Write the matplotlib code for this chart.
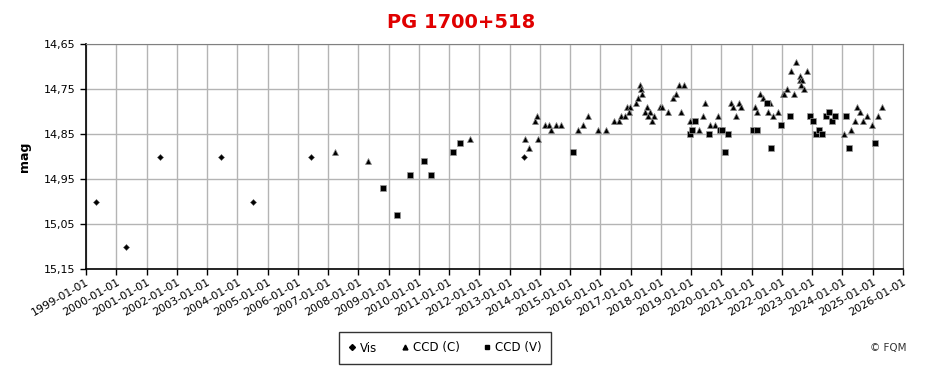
import matplotlib
matplotlib.use("Agg")
import matplotlib.pyplot as plt
from matplotlib.lines import Line2D

# Vis observations (decimal year, magnitude)
vis_t = [1999.32, 2000.33, 2001.46, 2003.47, 2004.53, 2006.42, 2013.49]
vis_m = [15.00, 15.10, 14.90, 14.90, 15.00, 14.90, 14.90]

# CCD (C) observations
ccdc_t = [2007.22, 2008.31, 2011.68, 2013.50, 2013.63, 2013.83, 2013.89, 2013.93,
          2014.16, 2014.29, 2014.36, 2014.52, 2014.69, 2015.25, 2015.41, 2015.58,
          2015.91, 2016.17, 2016.44, 2016.60, 2016.68, 2016.82, 2016.88, 2016.98,
          2016.95, 2017.18, 2017.24, 2017.31, 2017.34, 2017.37, 2017.55, 2017.48,
          2017.64, 2017.58, 2017.78, 2017.71, 2017.97, 2018.04, 2018.24, 2018.40,
          2018.50, 2018.60, 2018.77, 2018.67, 2018.96, 2019.39, 2019.46, 2019.26,
          2019.62, 2019.79, 2019.89, 2020.33, 2020.39, 2020.49, 2020.59, 2020.66,
          2021.12, 2021.19, 2021.29, 2021.38, 2021.52, 2021.62, 2021.55, 2021.72,
          2021.88, 2022.02, 2022.08, 2022.15, 2022.31, 2022.48, 2022.41, 2022.58,
          2022.61, 2022.67, 2022.64, 2022.74, 2022.84, 2024.04, 2024.27, 2024.40,
          2024.47, 2024.57, 2024.67, 2024.80, 2024.96, 2025.19, 2025.32]
ccdc_m = [14.89, 14.91, 14.86, 14.86, 14.88, 14.82, 14.81, 14.86,
          14.83, 14.83, 14.84, 14.83, 14.83, 14.84, 14.83, 14.81,
          14.84, 14.84, 14.82, 14.82, 14.81, 14.81, 14.79, 14.79,
          14.80, 14.78, 14.77, 14.74, 14.75, 14.76, 14.79, 14.80,
          14.80, 14.81, 14.81, 14.82, 14.79, 14.79, 14.80, 14.77,
          14.76, 14.74, 14.74, 14.80, 14.82, 14.81, 14.78, 14.84,
          14.83, 14.83, 14.81, 14.78, 14.79, 14.81, 14.78, 14.79,
          14.79, 14.80, 14.76, 14.77, 14.78, 14.78, 14.80, 14.81,
          14.80, 14.76, 14.76, 14.75, 14.71, 14.69, 14.76, 14.72,
          14.73, 14.73, 14.74, 14.75, 14.71, 14.85, 14.84, 14.82,
          14.79, 14.80, 14.82, 14.81, 14.83, 14.81, 14.79]

# CCD (V) observations
ccdv_t = [2008.83, 2009.29, 2009.72, 2010.18, 2010.41, 2011.14, 2011.37, 2015.11,
          2018.96, 2019.03, 2019.13, 2019.59, 2019.95, 2020.02, 2020.12, 2020.22,
          2021.05, 2021.19, 2021.49, 2021.65, 2021.98, 2022.25, 2022.94, 2023.04,
          2023.14, 2023.21, 2023.31, 2023.44, 2023.57, 2023.67, 2023.74, 2024.10,
          2024.20, 2025.06]
ccdv_m = [14.97, 15.03, 14.94, 14.91, 14.94, 14.89, 14.87, 14.89,
          14.85, 14.84, 14.82, 14.85, 14.84, 14.84, 14.89, 14.85,
          14.84, 14.84, 14.78, 14.88, 14.83, 14.81, 14.81, 14.82,
          14.85, 14.84, 14.85, 14.81, 14.80, 14.82, 14.81, 14.81,
          14.88, 14.87]

years = list(range(1999, 2027))
year_labels = [f"{y}-01-01" for y in years]
y_ticks = [14.65, 14.75, 14.85, 14.95, 15.05, 15.15]
y_labels = ["14,65", "14,75", "14,85", "14,95", "15,05", "15,15"]

fig = plt.figure(figsize=(9.32, 3.71), dpi=100)
ax = fig.add_axes([86/932, 1-269/371, (903-86)/932, 225/371])

ax.plot(vis_t, vis_m, ls="none", marker="D", ms=3, color="black", mec="#555555", mew=0.4, label="Vis", zorder=3)
ax.plot(ccdc_t, ccdc_m, ls="none", marker="^", ms=4.5, color="black", mec="#888888", mew=0.5, label="CCD (C)", zorder=3)
ax.plot(ccdv_t, ccdv_m, ls="none", marker="s", ms=4.5, color="black", mec="#999999", mew=0.5, label="CCD (V)", zorder=3)

ax.set_xlim(1999, 2026)
ax.set_ylim(15.15, 14.65)
ax.set_xticks(years)
ax.set_xticklabels(year_labels, rotation=30, ha="right", rotation_mode="anchor", fontsize=8)
ax.set_yticks(y_ticks)
ax.set_yticklabels(y_labels, fontsize=8)
ax.grid(True, color="#b4b4b4", lw=1)
ax.set_axisbelow(True)
ax.tick_params(axis="both", direction="out", length=4, color="black", width=1)
ax.tick_params(axis="x", pad=2)
for s in ["top", "right"]:
    ax.spines[s].set_color("#808080")
for s in ["left", "bottom"]:
    ax.spines[s].set_color("black")
    ax.spines[s].set_linewidth(1.2)

ax.set_ylabel("mag", fontsize=9, fontweight="bold", labelpad=9)

fig.text(0.495, 0.94, "PG 1700+518", color="#e00000", fontsize=14, fontweight="bold", ha="center", va="center")

handles = [Line2D([], [], ls="none", marker="D", ms=3, color="black"),
           Line2D([], [], ls="none", marker="^", ms=3.5, color="black"),
           Line2D([], [], ls="none", marker="s", ms=3.5, color="black")]
fig.legend(handles, ["Vis", "CCD (C)", "CCD (V)"], loc="center", bbox_to_anchor=(445/932, 1-348/371),
           ncol=3, frameon=True, fancybox=False, edgecolor="black", fontsize=8.5,
           handlelength=0.6, handletextpad=0.4, columnspacing=2.0, borderpad=0.8)

fig.text(888/932, 1-348/371, "© FQM", fontsize=7.5, ha="center", va="center", color="#333333")

fig.savefig("out.png", dpi=100)
